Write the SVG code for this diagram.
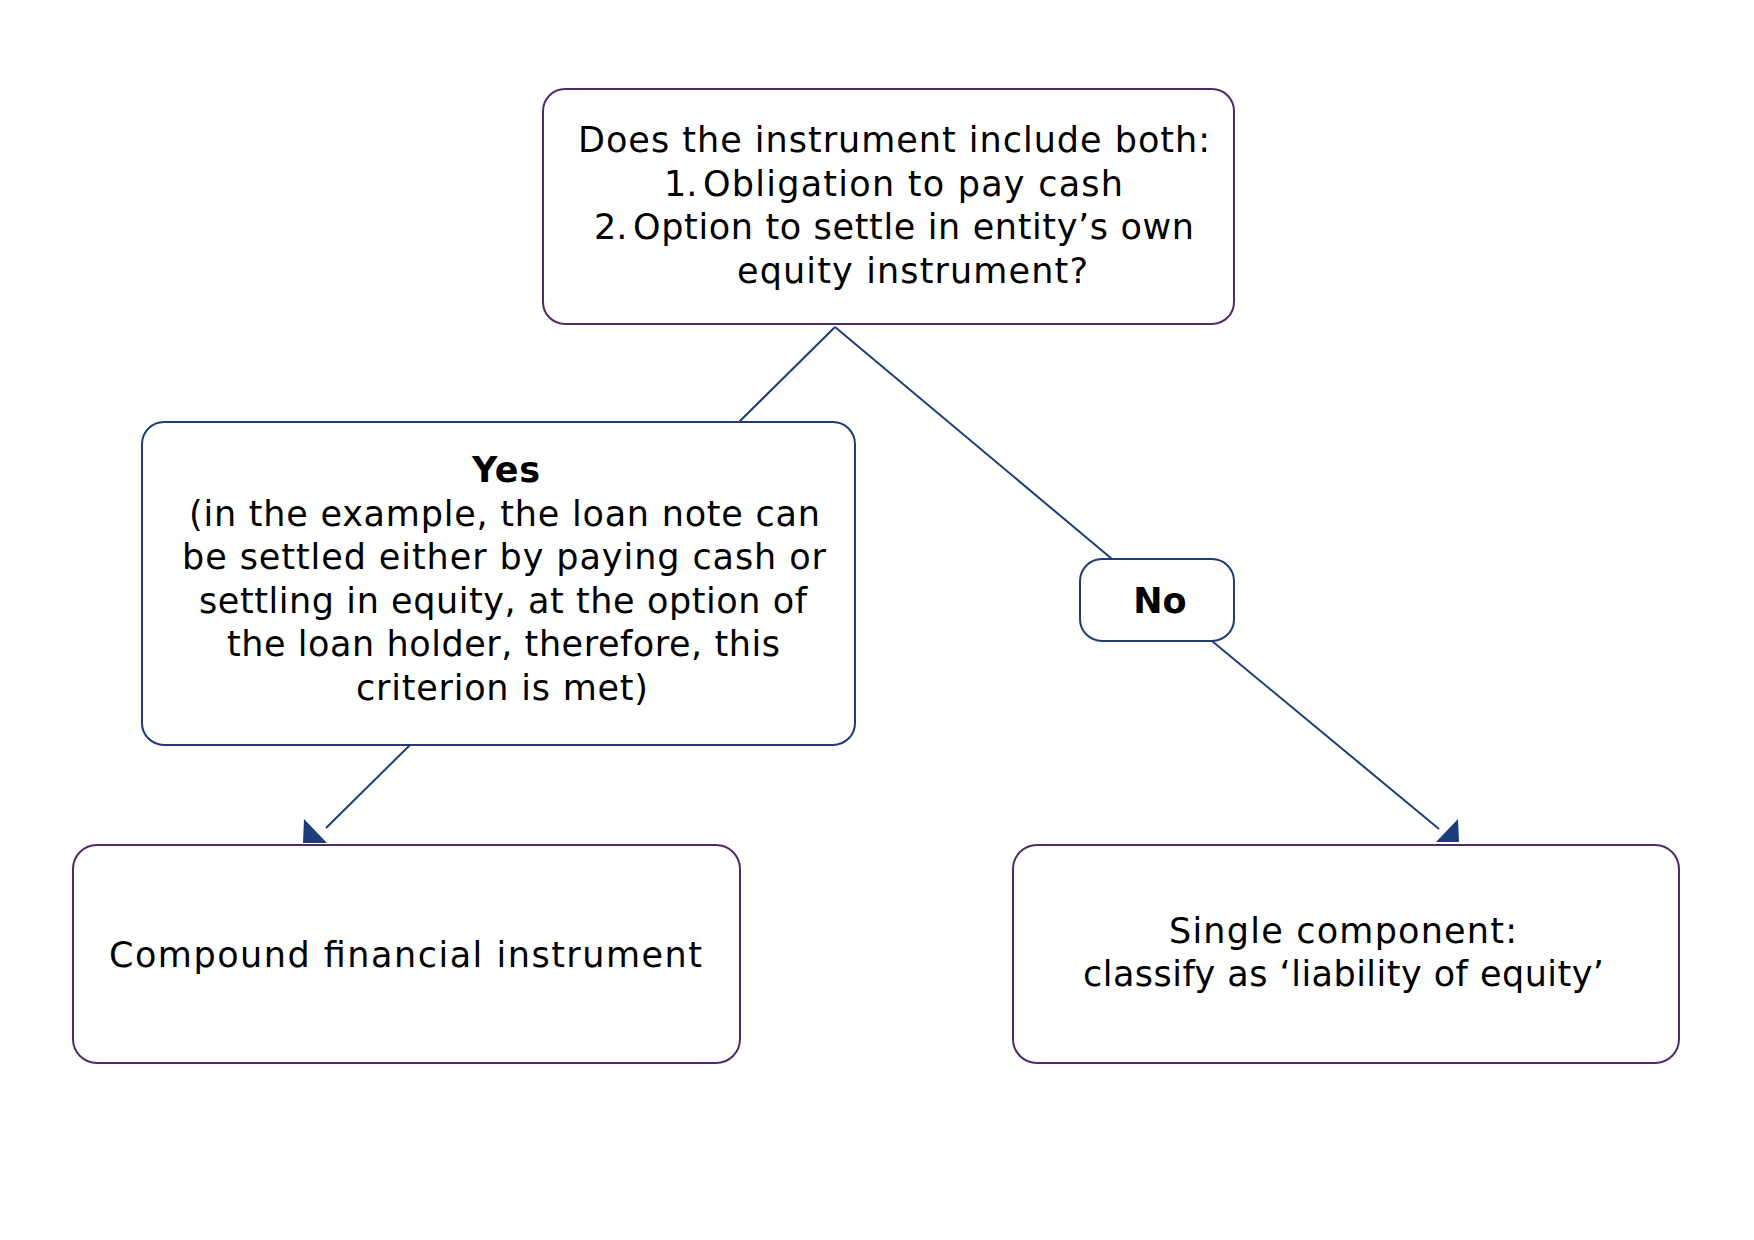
<svg xmlns="http://www.w3.org/2000/svg" width="1754" height="1240" viewBox="0 0 1754 1240">
  <style>
    .box { fill: #ffffff; stroke-width: 2; }
    .purple { stroke: #4f2a66; }
    .navy { stroke: #1f3c7a; }
    .t { font-family: "DejaVu Sans", "Liberation Sans", sans-serif; font-size: 35px; fill: #000000; }
    .b { font-weight: bold; }
    .conn line { stroke: #1f3c7a; stroke-width: 2; fill: none; }
    .conn polygon { fill: #1f3c7a; stroke: none; }
  </style>
  <rect x="0" y="0" width="1754" height="1240" fill="#ffffff"/>

  <g id="connectors" class="conn">
    <line x1="835" y1="327" x2="739" y2="422"/>
    <line x1="835" y1="327" x2="1112" y2="559"/>
    <line x1="410" y1="745" x2="326" y2="828"/>
    <polygon points="304,819 303,843 327,843"/>
    <line x1="1212" y1="641" x2="1439" y2="829"/>
    <polygon points="1436,842 1458,819 1459,842"/>
  </g>

  <g id="node-question">
    <rect class="box purple" x="543" y="89" width="691" height="235" rx="22" ry="22"/>
    <text class="t" x="578" y="152" textLength="632" lengthAdjust="spacing">Does the instrument include both:</text>
    <text class="t" x="664" y="195.5">1.<tspan x="703" textLength="420" lengthAdjust="spacing">Obligation to pay cash</tspan></text>
    <text class="t" x="594" y="239">2.<tspan x="633" textLength="561" lengthAdjust="spacing">Option to settle in entity’s own</tspan></text>
    <text class="t" x="737" y="282.5" textLength="351" lengthAdjust="spacing">equity instrument?</text>
  </g>

  <g id="node-yes">
    <rect class="box navy" x="142" y="422" width="713" height="323" rx="22" ry="22"/>
    <text class="t b" x="472" y="482" textLength="68" lengthAdjust="spacing">Yes</text>
    <text class="t" x="189" y="525.5" textLength="631" lengthAdjust="spacing">(in the example, the loan note can</text>
    <text class="t" x="182" y="569" textLength="644" lengthAdjust="spacing">be settled either by paying cash or</text>
    <text class="t" x="199" y="612.5" textLength="608" lengthAdjust="spacing">settling in equity, at the option of</text>
    <text class="t" x="227" y="656" textLength="553" lengthAdjust="spacing">the loan holder, therefore, this</text>
    <text class="t" x="356" y="699.5" textLength="292" lengthAdjust="spacing">criterion is met)</text>
  </g>

  <g id="node-no">
    <rect class="box navy" x="1080" y="559" width="154" height="82" rx="22" ry="22"/>
    <text class="t b" x="1160" y="612.5" text-anchor="middle">No</text>
  </g>

  <g id="node-compound">
    <rect class="box purple" x="73" y="845" width="667" height="218" rx="24" ry="24"/>
    <text class="t" x="109" y="967" textLength="593" lengthAdjust="spacing">Compound financial instrument</text>
  </g>

  <g id="node-single">
    <rect class="box purple" x="1013" y="845" width="666" height="218" rx="24" ry="24"/>
    <text class="t" x="1169" y="943" textLength="348" lengthAdjust="spacing">Single component:</text>
    <text class="t" x="1083" y="986" textLength="521" lengthAdjust="spacing">classify as ‘liability of equity’</text>
  </g>
</svg>
